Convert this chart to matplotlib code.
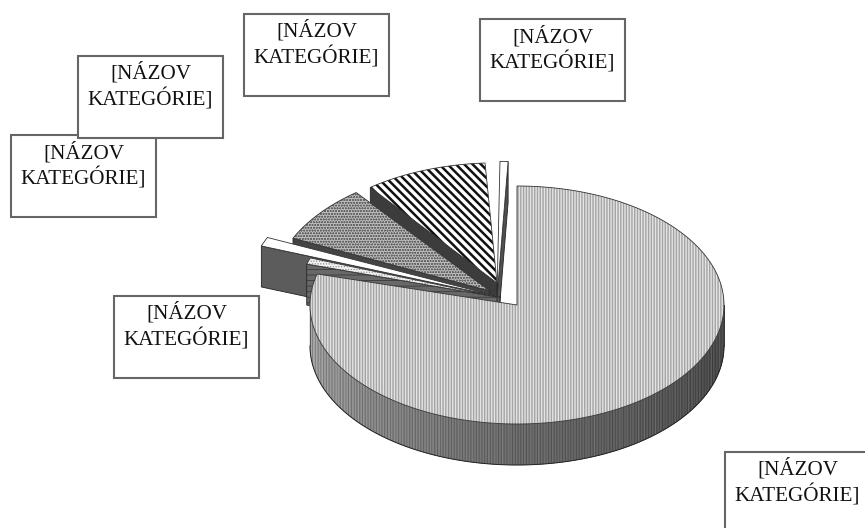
import matplotlib
matplotlib.use("Agg")
import matplotlib.pyplot as plt
from matplotlib.patches import Polygon, Rectangle
import numpy as np

# ── Data ──────────────────────────────────────────────────────────────────────
LABEL = "[NÁZOV\nKATEGÓRIE]"
# share of the pie in %, going counter-clockwise from the top
slice_names = ["sliver", "diag", "dots", "strip", "light"]
slice_values = [0.55, 9.45, 7.5, 1.0, 0.9]
big_value = 79.2

# ── Layout / style ────────────────────────────────────────────────────────────
W, H = 865, 528
CX, CY, RX, RY = 517, 305, 207, 119
DEPTH = 41
# per slice: apex, radius factor, angle nudge
APEX = {"sliver": (497, 297), "diag": (497, 283), "dots": (490, 291), "strip": (500, 297), "light": (497, 297)}
RADIUS = {"sliver": 1.14, "diag": 1.01, "dots": 1.05, "strip": 1.23, "light": 0.96}
NUDGE = {"sliver": -2.7, "diag": 1.3, "dots": 2.0, "strip": 3.0, "light": 3.4}
STYLE = {
    "sliver": dict(face="white", hatch=None, hatch_col="none", wall="#505050"),
    "diag": dict(face="white", hatch="\\\\\\\\", hatch_col="#111111", wall="#3c3c3c"),
    "dots": dict(face="#bcbcbc", hatch="oooooo", hatch_col="#666666", wall="#444444"),
    "strip": dict(face="white", hatch=None, hatch_col="none", wall="#5c5c5c"),
    "light": dict(face="#f0f0f0", hatch="......", hatch_col="#888888", wall="#686868"),
}
BOXES = [(244, 14), (480, 19), (11, 135), (78, 56), (114, 296), (725, 452)]
BOX_W, BOX_H = 145, 82


def arc_pts(x, y, r, a0, a1, n=90):
    a = np.radians(np.linspace(a0, a1, n))
    return np.column_stack([x + RX * r * np.cos(a), y - RY * r * np.sin(a)])


def hatched(ax, pts, face, hatch, hatch_col, lw_hatch, edge="#333333", lw=0.6, z=2):
    ax.add_patch(Polygon(pts, closed=True, facecolor=face, edgecolor="none", lw=0, zorder=z))
    if hatch:
        plt.rcParams["hatch.linewidth"] = lw_hatch
        ax.add_patch(Polygon(pts, closed=True, facecolor="none", edgecolor=hatch_col, hatch=hatch, lw=0, zorder=z))
    if edge:
        ax.add_patch(Polygon(pts, closed=True, facecolor="none", edgecolor=edge, lw=lw, zorder=z))


fig = plt.figure(figsize=(W / 100, H / 100), dpi=100)
ax = fig.add_axes([0, 0, 1, 1])
ax.set_xlim(0, W)
ax.set_ylim(H, 0)
ax.axis("off")

# small exploded slices, back to front
start = 90.0
z = 2
for name, val in zip(slice_names, slice_values):
    sweep = val * 3.6
    a0 = start + NUDGE[name]
    a1 = a0 + sweep
    start += sweep
    x, y = APEX[name]
    r = RADIUS[name]
    st = STYLE[name]
    arc = arc_pts(x, y, r, a0, a1, 30)
    # radial side wall, the sliver shows its right hand side
    corner = arc[0] if name == "sliver" else arc[-1]
    wall = [(x, y), corner, corner + (0, DEPTH), (x, y + DEPTH)]
    ax.add_patch(Polygon(wall, closed=True, facecolor=st["wall"], edgecolor="#222222", lw=0.6, zorder=z))
    if name == "light":
        plt.rcParams["hatch.linewidth"] = 0.6
        ax.add_patch(Polygon(wall, closed=True, facecolor="none", edgecolor="#3a3a3a", hatch="---", lw=0, zorder=z))
    top = np.vstack([[(x, y)], arc])
    hatched(ax, top, st["face"], st["hatch"], st["hatch_col"], 1.8 if name == "diag" else 0.5, z=z)
    z += 1

# big slice: front wall as shaded segments, then the top
a_end = 90 + (100 - big_value) * 3.6
plt.rcParams["hatch.linewidth"] = 0.8
shade = np.interp(np.linspace(180, 360, 91), [180, 270, 360], [0.68, 0.44, 0.28])
for i, a in enumerate(np.arange(180, 360, 2)):
    seg = arc_pts(CX, CY, 1, a, a + 2, 3)
    pts = np.vstack([seg, seg[::-1] + (0, DEPTH)])
    ax.add_patch(Polygon(pts, closed=True, facecolor=str(shade[i]), edgecolor=str(shade[i]), lw=0.3, zorder=z))
    ax.add_patch(Polygon(pts, closed=True, facecolor="none", edgecolor=str(shade[i] * 0.75), hatch="||||||", lw=0, zorder=z))
front = arc_pts(CX, CY, 1, 180, 360, 120) + (0, DEPTH)
ax.plot(front[:, 0], front[:, 1], color="#222222", lw=0.7, zorder=z)
ax.plot([CX - RX, CX - RX], [CY, CY + DEPTH], color="#555555", lw=0.7, zorder=z)
ax.plot([CX + RX, CX + RX], [CY, CY + DEPTH], color="#333333", lw=0.7, zorder=z)
z += 1
big_arc = arc_pts(CX, CY, 1, a_end, 450, 300)
big_top = np.vstack([[(CX, CY)], big_arc])
hatched(ax, big_top, "#e4e4e4", "||||||", "#a4a4a4", 1.0, z=z)
z += 1

# category label boxes
for bx, by in BOXES:
    ax.add_patch(Rectangle((bx, by), BOX_W, BOX_H, facecolor="white", edgecolor="#666666", lw=1.5, zorder=z))
    ax.text(bx + BOX_W / 2, by + 6.5, LABEL, ha="center", va="top", family="Liberation Serif",
            fontsize=15.2, color="#111111", linespacing=1.25, zorder=z + 0.5)
    z += 1

fig.savefig("out.png", dpi=100)
